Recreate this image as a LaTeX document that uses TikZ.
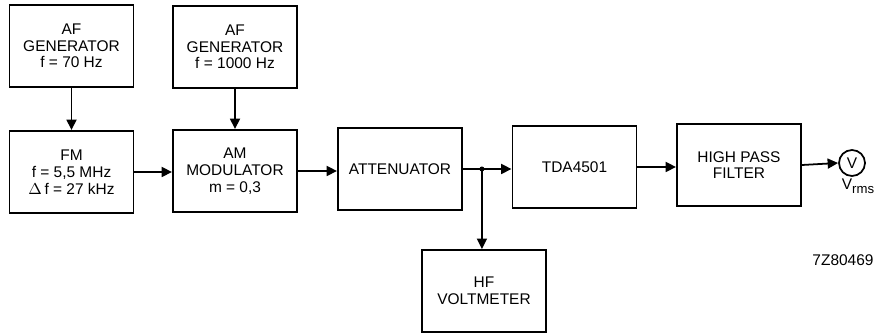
\documentclass[tikz,border=0pt]{standalone}
\usepackage{fontspec}
\setmainfont{Liberation Sans}
\usetikzlibrary{arrows.meta}

\begin{document}
\begin{tikzpicture}[x=0.02cm, y=-0.02cm,
  bloque/.style={draw, line width=1.1pt, minimum width=2.48cm, minimum height=1.64cm,
    align=center, inner sep=1pt, font=\fontsize{8.8}{9.5}\selectfont},
  flecha/.style={line width=1pt, -{Triangle[length=2.1mm, width=2mm]}}]
  \useasboundingbox (0,0) rectangle (876,334);

  % Bloques
  \node[bloque] (gen1) at (71.5,46) {AF\\GENERATOR\\f = 70 Hz};
  \node[bloque] (gen2) at (235,47) {AF\\GENERATOR\\f = 1000 Hz};
  \node[bloque] (fm)   at (71.5,172) {FM\\f = 5,5 MHz\\$\Delta$\,f = 27 kHz};
  \node[bloque] (am)   at (235,171) {AM\\MODULATOR\\m = 0,3};
  \node[bloque] (att)  at (400,169) {ATTENUATOR};
  \node[bloque] (tda)  at (574.5,167) {TDA4501};
  \node[bloque] (hf)   at (484,291) {HF\\VOLTMETER};
  \node[bloque] (hpf)  at (739,165) {HIGH PASS\\FILTER};

  % Voltimetro
  \node[draw, circle, line width=1pt, minimum size=0.52cm, inner sep=0pt,
    font=\fontsize{8.8}{9.5}\selectfont] (volt) at (852,163) {V};
  \node[anchor=north, inner sep=1pt, font=\fontsize{8.8}{9.5}\selectfont]
    (vrms) at ([xshift=0.12cm]volt.south) {V\raisebox{-0.5ex}{\fontsize{7.5}{8}\selectfont rms}};

  % Conexiones
  \draw[flecha] (gen1) -- (fm);
  \draw[flecha] (gen2) -- (am);
  \draw[flecha] (fm) -- (fm -| am.west);
  \draw[flecha] (am.east) -- (am.east -| att.west);
  \coordinate (jn) at ([xshift=0.38cm]att.east);
  \draw[line width=1pt] (att.east) -- (jn);
  \fill (jn) circle[radius=0.05cm];
  \draw[flecha] (jn) -- (jn -| tda.west);
  \draw[flecha] (jn) -- (jn |- hf.north);
  \draw[flecha] (tda.east) -- (tda.east -| hpf.west);
  \draw[flecha] (hpf.east) -- (volt.west);

  % Referencia
  \node[font=\fontsize{8.8}{9.5}\selectfont] (codigo) at (843,260) {7Z80469};
\end{tikzpicture}
\end{document}
